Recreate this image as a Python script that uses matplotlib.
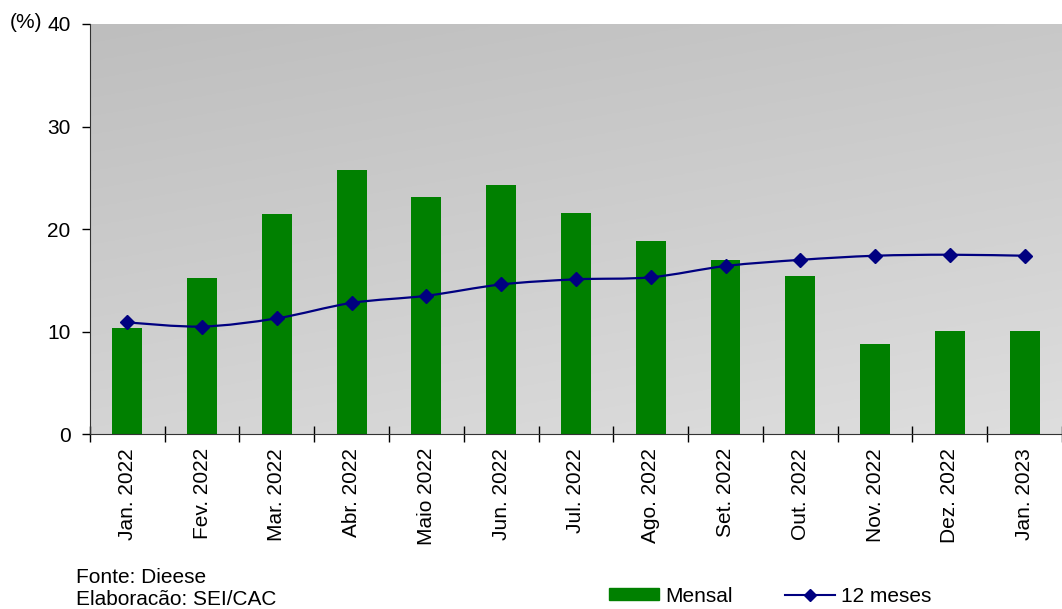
import matplotlib.pyplot as plt
import numpy as np
from matplotlib.patches import Patch, PathPatch
from matplotlib.lines import Line2D
from matplotlib.path import Path

plt.rcParams['font.family'] = ['Liberation Sans', 'DejaVu Sans']

meses = ['Jan. 2022', 'Fev. 2022', 'Mar. 2022', 'Abr. 2022', 'Maio 2022', 'Jun. 2022',
         'Jul. 2022', 'Ago. 2022', 'Set. 2022', 'Out. 2022', 'Nov. 2022', 'Dez. 2022',
         'Jan. 2023']
mensal = [10.4, 15.2, 21.5, 25.8, 23.1, 24.3, 21.6, 18.8, 17.0, 15.4, 8.8, 10.1, 10.1]
doze_meses = [10.9, 10.5, 11.3, 12.8, 13.5, 14.6, 15.1, 15.3, 16.4, 17.0, 17.4, 17.5, 17.4]

FS = 15


def curva_suave(xs, ys):
    # linha suavizada tipo excel (bezier catmull-rom)
    pts = np.column_stack([xs, ys])
    verts = [pts[0]]
    codes = [Path.MOVETO]
    n = len(pts)
    for i in range(n - 1):
        p0 = pts[max(i - 1, 0)]
        p1 = pts[i]
        p2 = pts[i + 1]
        p3 = pts[min(i + 2, n - 1)]
        c1 = p1 + (p2 - p0) / 6.0
        c2 = p2 - (p3 - p1) / 6.0
        verts += [c1, c2, p2]
        codes += [Path.CURVE4] * 3
    return Path(verts, codes)


def main():
    fig = plt.figure(figsize=(10.62, 6.09), dpi=100)
    ax = fig.add_axes([0.0847, 0.287, 0.9153, 0.6737])

    # fundo em degrade (escuro em cima/esquerda, claro embaixo/direita)
    gx, gy = np.meshgrid(np.linspace(0, 1, 200), np.linspace(0, 1, 200))
    t = gx * 0.3 + gy * 0.7
    v = 0.745 + 0.125 * t
    img = np.dstack([v, v, v])
    ax.imshow(img, extent=[0, 1, 0, 1], transform=ax.transAxes,
              aspect='auto', zorder=0, origin='upper')

    x = np.arange(len(meses))
    ax.bar(x, mensal, width=0.4, color='#008000', zorder=2)
    ax.add_patch(PathPatch(curva_suave(x, doze_meses), fill=False,
                           edgecolor='#000080', lw=1.6, zorder=3))
    ax.plot(x, doze_meses, ls='none', color='#000080', marker='D', markersize=7, zorder=4)

    ax.set_xlim(-0.5, len(meses) - 0.5)
    ax.set_ylim(0, 40)
    ax.set_yticks([0, 10, 20, 30, 40])
    ax.set_xticks(np.arange(-0.5, len(meses), 1.0))
    ax.set_xticklabels([])
    ax.set_xticks(x, minor=True)
    ax.set_xticklabels(meses, minor=True, rotation=90, fontsize=FS)
    ax.tick_params(axis='x', which='minor', length=0, pad=10)
    ax.tick_params(axis='x', which='major', length=12, direction='inout', width=1)
    ax.tick_params(axis='y', length=6, direction='out', labelsize=FS, width=1, pad=8)
    for s in ['top', 'right']:
        ax.spines[s].set_visible(False)
    ax.spines['left'].set_color('#333333')
    ax.spines['bottom'].set_color('#333333')

    fig.text(0.009, 0.963, '(%)', fontsize=FS, va='center')
    fig.text(0.072, 0.052, 'Fonte: Dieese', fontsize=FS, va='center')
    fig.text(0.072, 0.016, 'Elaboracão: SEI/CAC', fontsize=FS, va='center')

    handles = [Patch(color='#008000'),
               Line2D([0], [0], color='#000080', marker='D', markersize=6, lw=1.5)]
    fig.legend(handles, ['Mensal', '12 meses'], loc='center', bbox_to_anchor=(0.725, 0.021),
               ncol=2, frameon=False, fontsize=FS, handlelength=2.4, handleheight=0.5,
               columnspacing=2.5, handletextpad=0.3)

    fig.savefig('out.png', dpi=100)


if __name__ == '__main__':
    main()
